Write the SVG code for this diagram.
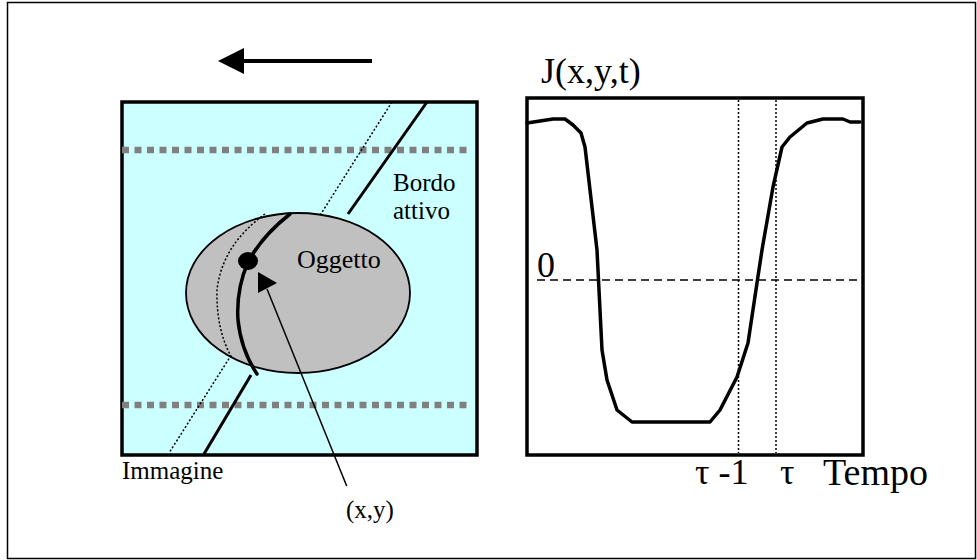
<svg xmlns="http://www.w3.org/2000/svg" width="977" height="560" viewBox="0 0 977 560">
<style>
text{font-family:"Liberation Serif","Times New Roman",serif;fill:#000}
.s{font-size:25px}
.b{font-size:36px}
.dot{fill:none;stroke:#000;stroke-width:1.5;stroke-dasharray:2 2}
.gray{stroke:#808080;stroke-width:6.5;stroke-dasharray:7 5.5}
.thick{fill:none;stroke:#000;stroke-width:3.5;stroke-linejoin:round;stroke-linecap:round}
</style>
<rect x="0" y="0" width="977" height="560" fill="#fff"/>
<rect x="7.5" y="2.5" width="968" height="556" fill="none" stroke="#000" stroke-width="1.5"/>

<g id="immagine">
<rect x="122" y="102" width="355" height="353" fill="#CCFFFF" stroke="#000" stroke-width="3.5"/>
<line class="gray" x1="122" y1="150" x2="467" y2="150"/>
<line class="gray" x1="122" y1="405" x2="467" y2="405"/>
<line class="dot" x1="392" y1="102" x2="169" y2="453"/>
<line x1="427" y1="102" x2="348" y2="214" stroke="#000" stroke-width="3"/>
<line x1="251" y1="375" x2="204" y2="454" stroke="#000" stroke-width="3"/>
<text class="s" x="122" y="479">Immagine</text>
</g>

<g id="oggetto">
<ellipse cx="298" cy="293" rx="112" ry="80" fill="#C0C0C0" stroke="#000" stroke-width="1.8"/>
<path class="dot" d="M265,214 Q222,245 217,290 Q216,330 232,358"/>
<path class="thick" d="M290,214 Q262,236 248,262 Q236,290 238,320 Q241,350 257,374"/>
<ellipse cx="248" cy="261" rx="10" ry="9" fill="#000"/>
<text x="297" y="268" style="font-size:26px">Oggetto</text>
</g>

<g id="bordo">
<text class="s" x="393" y="191">Bordo</text>
<text class="s" x="393" y="219">attivo</text>
</g>

<g id="punto">
<text class="s" x="346" y="518">(x,y)</text>
</g>

<g id="connectors">
<line x1="346.7" y1="486" x2="267" y2="289" stroke="#000" stroke-width="1.5"/>
<polygon points="258,272 258,293 277,283" fill="#000"/>
<line x1="243" y1="61" x2="372" y2="61" stroke="#000" stroke-width="4"/>
<polygon points="218,61 244,48 244,74" fill="#000"/>
</g>

<g id="grafico">
<rect x="527" y="98" width="336" height="357" fill="none" stroke="#000" stroke-width="3.5"/>
<line class="dot" x1="738.5" y1="100" x2="738.5" y2="453"/>
<line class="dot" x1="776" y1="100" x2="776" y2="453"/>
<line x1="537" y1="280" x2="857" y2="280" stroke="#000" stroke-width="1.5" stroke-dasharray="8 5"/>
<polyline class="thick" points="527,123 553,119 565,119 573,125 581,133 585,147 597,250 602,350 607,380 617,410 632,422 710,422 720,410 737,377 748,343 757,283 762,250 773,187 782,147 790,137 807,123 823,119 843,119 850,122 860,122"/>
<text class="b" x="541" y="83">J(x,y,t)</text>
<text class="b" x="537" y="277">0</text>
<text class="b" x="695" y="484">τ -1</text>
<text class="b" x="780" y="484">τ</text>
<text x="823" y="485" style="font-size:38px">Tempo</text>
</g>
</svg>
